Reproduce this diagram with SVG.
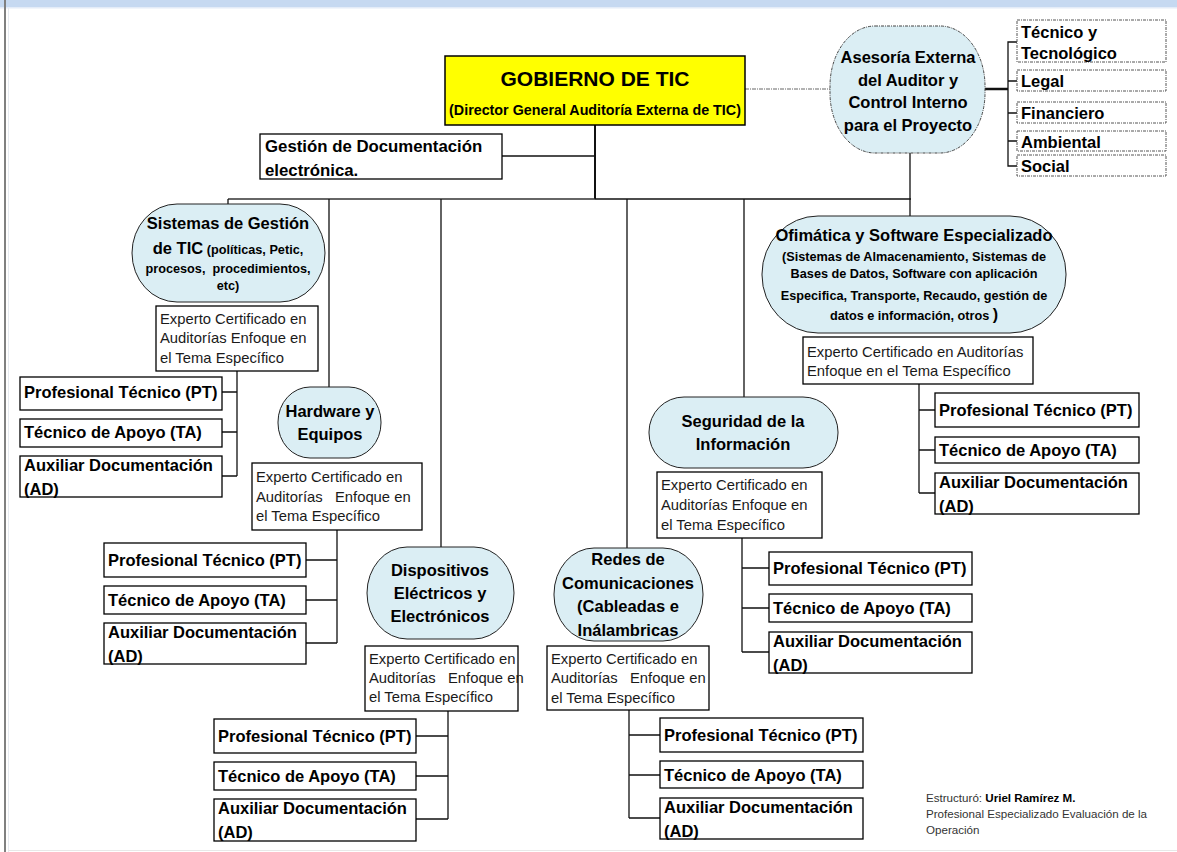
<svg xmlns="http://www.w3.org/2000/svg" width="1177" height="852" viewBox="0 0 1177 852">
<style>
.b{font-family:"Liberation Sans",Arial,sans-serif;font-weight:bold;font-size:16.5px;fill:#000}
.s{font-family:"Liberation Sans",Arial,sans-serif;font-weight:bold;font-size:12.7px;fill:#000}
.r{font-family:"Liberation Sans",Arial,sans-serif;font-size:14.8px;fill:#1a1a1a;white-space:pre}
.f{font-family:"Liberation Sans",Arial,sans-serif;font-size:11.6px;fill:#333}
.box{fill:#fff;stroke:#000;stroke-width:1.3}
.dbox{fill:#fff;stroke:#555;stroke-width:1;stroke-dasharray:3 1 1 1}
.ell{fill:#dbeef4;stroke:#222;stroke-width:1}
.c{fill:none;stroke:#111;stroke-width:1.3}
</style>
<rect x="0" y="0" width="1177" height="852" fill="#fff"/>
<rect x="0" y="0" width="1177" height="7" fill="#c6d9f1"/>
<rect x="0" y="7" width="1177" height="1.5" fill="#e4ecf8"/>
<rect x="4" y="0" width="2" height="852" fill="#808080"/>
<rect x="8" y="8" width="1" height="844" fill="#e6eaf0"/>
<rect x="8" y="850" width="1169" height="1" fill="#e8e8e8"/>

<g id="connectors">
<path class="c" d="M595 125V199" style="stroke-width:2"/>
<path class="c" d="M502 156H595"/>
<path d="M228 199H595" fill="none" stroke="#333" stroke-width="1.3"/>
<path class="c" d="M595 199H911"/>
<path class="c" d="M228 199V204M329 199V387M441 199V547M627 199V548M744 199V397M910 153V216"/>
<path d="M745 89H830" fill="none" stroke="#666" stroke-width="1" stroke-dasharray="4 1 1 1"/>
<path class="c" d="M985 89H1008" style="stroke-width:2.5"/>
<path class="c" d="M1017 42H1008V166H1017M1008 81H1017M1008 113H1017M1008 141H1017"/>
<path class="c" d="M237 371V476M237 392H222M237 432H222M237 476H222"/>
<path class="c" d="M337 530V643M337 560H306M337 600H306M337 643H306"/>
<path class="c" d="M448 711V819M448 736H416M448 776H416M448 819H416"/>
<path class="c" d="M629 710V818M629 735H660M629 775H660M629 818H660"/>
<path class="c" d="M742 538V652M742 568H769M742 608H769M742 652H769"/>
<path class="c" d="M919 384V493M919 410H935M919 450H935M919 493H935"/>
</g>

<g id="gobierno">
<rect x="445" y="56" width="300" height="69" fill="#ffff00" stroke="#000" stroke-width="1.5"/>
<text class="b" x="595" y="86" text-anchor="middle" style="font-size:21px">GOBIERNO DE TIC</text>
<text class="b" x="595" y="115" text-anchor="middle" style="font-size:14.3px">(Director General Auditoría Externa de TIC)</text>
</g>

<g id="gestion-doc">
<rect class="box" x="260" y="134" width="242" height="45"/>
<text class="b" x="265" y="152" style="font-size:16.8px">Gestión de Documentación</text>
<text class="b" x="265" y="176" style="font-size:16.8px">electrónica.</text>
</g>

<g id="asesoria">
<rect x="830" y="26" width="155" height="127" rx="45" ry="60" fill="#dbeef4" stroke="#444" stroke-width="1" stroke-dasharray="3 1 1 1"/>
<text class="b" x="908" y="63" text-anchor="middle">Asesoría Externa</text>
<text class="b" x="908" y="86" text-anchor="middle">del Auditor y</text>
<text class="b" x="908" y="108" text-anchor="middle">Control Interno</text>
<text class="b" x="908" y="131" text-anchor="middle">para el Proyecto</text>
</g>

<g id="asesoria-tecnico">
<rect class="dbox" x="1017" y="20" width="149" height="42"/>
<text class="b" x="1021" y="38">Técnico y</text>
<text class="b" x="1021" y="59">Tecnológico</text>
</g>
<g id="asesoria-legal">
<rect class="dbox" x="1017" y="70" width="149" height="21"/>
<text class="b" x="1021" y="87">Legal</text>
</g>
<g id="asesoria-financiero">
<rect class="dbox" x="1017" y="102" width="149" height="21"/>
<text class="b" x="1021" y="119">Financiero</text>
</g>
<g id="asesoria-ambiental">
<rect class="dbox" x="1017" y="131" width="149" height="20"/>
<text class="b" x="1021" y="148">Ambiental</text>
</g>
<g id="asesoria-social">
<rect class="dbox" x="1017" y="155" width="149" height="21"/>
<text class="b" x="1021" y="172">Social</text>
</g>

<g id="sistemas">
<rect class="ell" x="132" y="204" width="193" height="98" rx="45" ry="49"/>
<text class="b" x="228" y="229" text-anchor="middle">Sistemas de Gestión</text>
<text x="228" y="254" text-anchor="middle"><tspan class="b">de TIC</tspan><tspan class="s"> (políticas, Petic,</tspan></text>
<text class="s" x="228" y="273" text-anchor="middle" style="white-space:pre">procesos,  procedimientos,</text>
<text class="s" x="228" y="290" text-anchor="middle">etc)</text>
</g>
<g id="sistemas-experto">
<rect class="box" x="156" y="306" width="162" height="65"/>
<text class="r" x="160" y="324">Experto Certificado en</text>
<text class="r" x="160" y="343">Auditorías Enfoque en</text>
<text class="r" x="160" y="363">el Tema Específico</text>
</g>
<g id="sistemas-pt"><rect class="box" x="20" y="377" width="202" height="33"/><text class="b" x="24" y="398">Profesional Técnico (PT)</text></g>
<g id="sistemas-ta"><rect class="box" x="20" y="419" width="202" height="28"/><text class="b" x="24" y="438">Técnico de Apoyo (TA)</text></g>
<g id="sistemas-ad"><rect class="box" x="20" y="456" width="202" height="41"/><text class="b" x="24" y="471">Auxiliar Documentación</text><text class="b" x="24" y="495">(AD)</text></g>

<g id="hardware">
<rect class="ell" x="278" y="387" width="103" height="71" rx="32" ry="35"/>
<text class="b" x="330" y="417" text-anchor="middle">Hardware y</text>
<text class="b" x="330" y="440" text-anchor="middle">Equipos</text>
</g>
<g id="hardware-experto">
<rect class="box" x="252" y="463" width="170" height="67"/>
<text class="r" x="256" y="482">Experto Certificado en</text>
<text class="r" x="256" y="502">Auditorías   Enfoque en</text>
<text class="r" x="256" y="521">el Tema Específico</text>
</g>
<g id="hardware-pt"><rect class="box" x="104" y="543" width="202" height="34"/><text class="b" x="108" y="566">Profesional Técnico (PT)</text></g>
<g id="hardware-ta"><rect class="box" x="104" y="586" width="202" height="28"/><text class="b" x="108" y="606">Técnico de Apoyo (TA)</text></g>
<g id="hardware-ad"><rect class="box" x="104" y="623" width="202" height="41"/><text class="b" x="108" y="638">Auxiliar Documentación</text><text class="b" x="108" y="662">(AD)</text></g>

<g id="dispositivos">
<rect class="ell" x="367" y="547" width="147" height="92" rx="40" ry="46"/>
<text class="b" x="440" y="576" text-anchor="middle">Dispositivos</text>
<text class="b" x="440" y="599" text-anchor="middle">Eléctricos y</text>
<text class="b" x="440" y="622" text-anchor="middle">Electrónicos</text>
</g>
<g id="dispositivos-experto">
<rect class="box" x="365" y="646" width="153" height="65"/>
<text class="r" x="369" y="664">Experto Certificado en</text>
<text class="r" x="369" y="683">Auditorías   Enfoque en</text>
<text class="r" x="369" y="702">el Tema Específico</text>
</g>
<g id="dispositivos-pt"><rect class="box" x="214" y="719" width="202" height="34"/><text class="b" x="218" y="742">Profesional Técnico (PT)</text></g>
<g id="dispositivos-ta"><rect class="box" x="214" y="762" width="202" height="28"/><text class="b" x="218" y="782">Técnico de Apoyo (TA)</text></g>
<g id="dispositivos-ad"><rect class="box" x="214" y="799" width="202" height="42"/><text class="b" x="218" y="814">Auxiliar Documentación</text><text class="b" x="218" y="838">(AD)</text></g>

<g id="redes">
<rect class="ell" x="554" y="548" width="149" height="93" rx="40" ry="46"/>
<text class="b" x="628" y="565" text-anchor="middle">Redes de</text>
<text class="b" x="628" y="589" text-anchor="middle">Comunicaciones</text>
<text class="b" x="628" y="612" text-anchor="middle">(Cableadas e</text>
<text class="b" x="628" y="636" text-anchor="middle">Inálambricas</text>
</g>
<g id="redes-experto">
<rect class="box" x="547" y="646" width="162" height="64"/>
<text class="r" x="551" y="664">Experto Certificado en</text>
<text class="r" x="551" y="683">Auditorías   Enfoque en</text>
<text class="r" x="551" y="703">el Tema Específico</text>
</g>
<g id="redes-pt"><rect class="box" x="660" y="718" width="203" height="34"/><text class="b" x="664" y="741">Profesional Técnico (PT)</text></g>
<g id="redes-ta"><rect class="box" x="660" y="761" width="203" height="27"/><text class="b" x="664" y="781">Técnico de Apoyo (TA)</text></g>
<g id="redes-ad"><rect class="box" x="660" y="798" width="203" height="41"/><text class="b" x="664" y="813">Auxiliar Documentación</text><text class="b" x="664" y="837">(AD)</text></g>

<g id="seguridad">
<rect class="ell" x="649" y="397" width="189" height="71" rx="35" ry="35"/>
<text class="b" x="743" y="427" text-anchor="middle">Seguridad de la</text>
<text class="b" x="743" y="450" text-anchor="middle">Información</text>
</g>
<g id="seguridad-experto">
<rect class="box" x="657" y="472" width="165" height="66"/>
<text class="r" x="661" y="490">Experto Certificado en</text>
<text class="r" x="661" y="510">Auditorías Enfoque en</text>
<text class="r" x="661" y="530">el Tema Específico</text>
</g>
<g id="seguridad-pt"><rect class="box" x="769" y="552" width="203" height="33"/><text class="b" x="773" y="574">Profesional Técnico (PT)</text></g>
<g id="seguridad-ta"><rect class="box" x="769" y="594" width="203" height="28"/><text class="b" x="773" y="614">Técnico de Apoyo (TA)</text></g>
<g id="seguridad-ad"><rect class="box" x="769" y="632" width="203" height="41"/><text class="b" x="773" y="647">Auxiliar Documentación</text><text class="b" x="773" y="671">(AD)</text></g>

<g id="ofimatica">
<rect class="ell" x="762" y="216" width="304" height="117" rx="56" ry="58"/>
<text class="b" x="914" y="241" text-anchor="middle">Ofimática y Software Especializado</text>
<text class="s" x="914" y="261" text-anchor="middle">(Sistemas de Almacenamiento, Sistemas de</text>
<text class="s" x="914" y="278" text-anchor="middle">Bases de Datos, Software con aplicación</text>
<text class="s" x="914" y="300" text-anchor="middle">Especifica, Transporte, Recaudo, gestión de</text>
<text class="s" x="914" y="320" text-anchor="middle">datos e información, otros <tspan style="font-size:16px">)</tspan></text>
</g>
<g id="ofimatica-experto">
<rect class="box" x="803" y="337" width="230" height="47"/>
<text class="r" x="807" y="357">Experto Certificado en Auditorías</text>
<text class="r" x="807" y="376">Enfoque en el Tema Específico</text>
</g>
<g id="ofimatica-pt"><rect class="box" x="935" y="393" width="204" height="34"/><text class="b" x="939" y="416">Profesional Técnico (PT)</text></g>
<g id="ofimatica-ta"><rect class="box" x="935" y="437" width="204" height="26"/><text class="b" x="939" y="456">Técnico de Apoyo (TA)</text></g>
<g id="ofimatica-ad"><rect class="box" x="935" y="473" width="204" height="41"/><text class="b" x="939" y="488">Auxiliar Documentación</text><text class="b" x="939" y="512">(AD)</text></g>

<g id="footer">
<text class="f" x="926" y="802">Estructuró: <tspan font-weight="bold" fill="#000">Uriel Ramírez M.</tspan></text>
<text class="f" x="926" y="818">Profesional Especializado Evaluación de la</text>
<text class="f" x="926" y="834">Operación</text>
</g>
</svg>
